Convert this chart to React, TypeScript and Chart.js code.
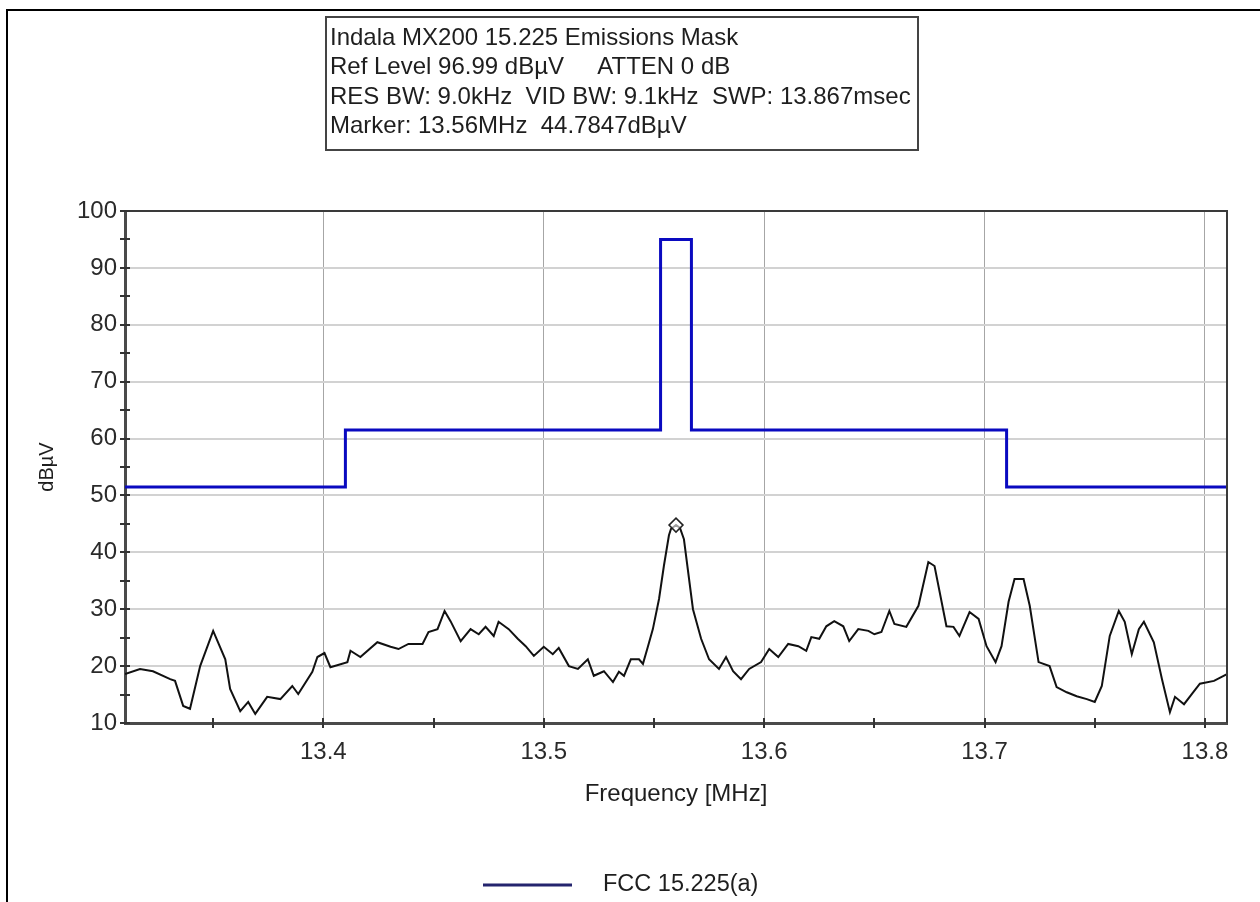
import React, { useEffect, useRef } from "react";
import { Chart, registerables } from "chart.js";

Chart.register(...registerables);

// ---------- data ----------
const traceFreq = [
  13.31, 13.3168, 13.3227, 13.3305, 13.3327, 13.3364, 13.3395, 13.3441, 13.35, 13.3555,
  13.3577, 13.3623, 13.3659, 13.3691, 13.3745, 13.3805, 13.3859, 13.3886, 13.395, 13.3973,
  13.4005, 13.4032, 13.4109, 13.4123, 13.4168, 13.4245, 13.4305, 13.4341, 13.4386, 13.445,
  13.4477, 13.4518, 13.455, 13.4577, 13.4623, 13.4668, 13.4705, 13.4736, 13.4773, 13.4795,
  13.4841, 13.4882, 13.4918, 13.4955, 13.5, 13.5041, 13.5068, 13.5114, 13.5155, 13.52,
  13.5227, 13.5273, 13.5314, 13.5341, 13.5364, 13.5395, 13.5432, 13.545, 13.5473, 13.5495,
  13.5523, 13.5545, 13.5568, 13.5577, 13.56, 13.5618, 13.5636, 13.5677, 13.5714, 13.575,
  13.5795, 13.5827, 13.5859, 13.5895, 13.5932, 13.5986, 13.6023, 13.6064, 13.6109, 13.6155,
  13.6191, 13.6214, 13.625, 13.6282, 13.6318, 13.6359, 13.6386, 13.6427, 13.6473, 13.65,
  13.6532, 13.6568, 13.6591, 13.6645, 13.67, 13.6745, 13.6773, 13.6827, 13.6859, 13.6886,
  13.6932, 13.6973, 13.7009, 13.705, 13.7077, 13.7109, 13.7136, 13.7177, 13.7205, 13.7245,
  13.7295, 13.7327, 13.7373, 13.7418, 13.7464, 13.75, 13.7532, 13.7568, 13.7609, 13.7636,
  13.7668, 13.77, 13.7723, 13.7768, 13.7805, 13.7841, 13.7864, 13.7905, 13.7941, 13.7977,
  13.8041, 13.81,
];
const traceLevel = [
  18.6, 19.5, 19.1, 17.7, 17.4, 13.0, 12.5, 20.0, 26.2, 21.2,
  16.0, 12.1, 13.7, 11.6, 14.6, 14.2, 16.5, 15.1, 19.0, 21.6,
  22.3, 19.8, 20.7, 22.7, 21.6, 24.2, 23.4, 23.0, 23.9, 23.9,
  26.0, 26.5, 29.7, 27.9, 24.4, 26.5, 25.6, 26.9, 25.3, 27.8,
  26.5, 24.8, 23.5, 21.8, 23.4, 22.1, 23.2, 20.0, 19.5, 21.2,
  18.3, 19.1, 17.2, 19.0, 18.3, 21.2, 21.2, 20.4, 23.5, 26.5,
  31.8, 37.6, 43.0, 44.1, 44.8, 44.3, 42.3, 30.0, 24.8, 21.2,
  19.5, 21.6, 19.1, 17.7, 19.5, 20.7, 23.0, 21.6, 23.9, 23.5,
  22.7, 25.1, 24.8, 27.0, 27.9, 27.0, 24.4, 26.5, 26.2, 25.6,
  26.0, 29.7, 27.4, 26.9, 30.6, 38.3, 37.6, 27.0, 26.9, 25.3,
  29.5, 28.3, 23.5, 20.7, 23.5, 31.3, 35.3, 35.3, 30.6, 20.7,
  20.0, 16.3, 15.4, 14.7, 14.2, 13.7, 16.5, 25.3, 29.7, 27.8,
  22.1, 26.5, 27.8, 24.2, 17.7, 11.9, 14.6, 13.3, 15.1, 16.9,
  17.4, 18.6,
];
const maskFreq = [13.31, 13.41, 13.553, 13.567, 13.71, 13.81];
const maskLevel = [51.5, 61.5, 95, 61.5, 51.5, 51.5];
const markerFreq = [13.56];
const markerLevel = [44.7847];

const xTickValues = [13.35, 13.4, 13.45, 13.5, 13.55, 13.6, 13.65, 13.7, 13.75, 13.8];
const xTickLabels = ["", "13.4", "", "13.5", "", "13.6", "", "13.7", "", "13.8"];
const yTickValues = [10, 15, 20, 25, 30, 35, 40, 45, 50, 55, 60, 65, 70, 75, 80, 85, 90, 95, 100];
const yTickLabels = ["10", "", "20", "", "30", "", "40", "", "50", "", "60", "", "70", "", "80", "", "90", "", "100"];

const infoLines = [
  "Indala MX200 15.225 Emissions Mask",
  "Ref Level 96.99 dBµV     ATTEN 0 dB",
  "RES BW: 9.0kHz  VID BW: 9.1kHz  SWP: 13.867msec",
  "Marker: 13.56MHz  44.7847dBµV",
];
const maskLabel = "FCC 15.225(a)";
const traceLabel = "Measured";
const xTitle = "Frequency [MHz]";
const yTitle = "dBµV";

// ---------- styling ----------
const FONT = "'Liberation Sans', Arial, sans-serif";
const W = 1260;
const H = 902;
const PLOT_TOP = 211;
const PLOT_BOTTOM = 723;
const PLOT_LEFT = 125;
const PLOT_RIGHT = 1227;

function idxOf(arr: number[], v: number) {
  for (let i = 0; i < arr.length; i++) if (Math.abs(arr[i] - v) < 1e-6) return i;
  return -1;
}

const decorPlugin = {
  id: "decor",
  beforeDraw(chart: any) {
    const ctx = chart.ctx;
    ctx.save();
    ctx.fillStyle = "#ffffff";
    ctx.fillRect(0, 0, chart.width, chart.height);
    ctx.strokeStyle = "#000";
    ctx.lineWidth = 2;
    ctx.beginPath();
    ctx.moveTo(7, H);
    ctx.lineTo(7, 10);
    ctx.lineTo(W, 10);
    ctx.stroke();
    ctx.restore();
  },
  afterDraw(chart: any) {
    const ctx = chart.ctx;
    const { left, right, top, bottom } = chart.chartArea;
    const xs = chart.scales.x;
    const ys = chart.scales.y;
    ctx.save();
    ctx.strokeStyle = "#3a3a3a";
    ctx.lineWidth = 2;
    ctx.beginPath();
    ctx.moveTo(left, top);
    ctx.lineTo(right, top);
    ctx.lineTo(right, bottom);
    ctx.stroke();
    ctx.strokeStyle = "#333";
    ctx.lineWidth = 2;
    ctx.beginPath();
    yTickValues.forEach((v) => {
      const y = Math.round(ys.getPixelForValue(v));
      ctx.moveTo(left - 5, y);
      ctx.lineTo(left + 5, y);
    });
    xTickValues.forEach((v) => {
      const x = Math.round(xs.getPixelForValue(v));
      ctx.moveTo(x, bottom - 5);
      ctx.lineTo(x, bottom + 5);
    });
    ctx.stroke();

    // info box
    ctx.fillStyle = "#ffffff";
    ctx.fillRect(326, 17, 592, 133);
    ctx.strokeStyle = "#444";
    ctx.lineWidth = 2;
    ctx.strokeRect(326, 17, 592, 133);
    ctx.fillStyle = "#1e1e1e";
    ctx.font = `24px ${FONT}`;
    ctx.textBaseline = "middle";
    ctx.textAlign = "left";
    infoLines.forEach((line, i) => {
      ctx.fillText(line, 330, 38 + i * 29.5);
    });

    // legend
    const ly = 885;
    ctx.strokeStyle = "#24246e";
    ctx.lineWidth = 3;
    ctx.beginPath();
    ctx.moveTo(483, ly);
    ctx.lineTo(572, ly);
    ctx.stroke();
    ctx.fillStyle = "#1e1e1e";
    ctx.font = `23.5px ${FONT}`;
    ctx.fillText(maskLabel, 603, ly);
    ctx.restore();
  },
};

export default function App() {
  const canvasRef = useRef<HTMLCanvasElement | null>(null);

  useEffect(() => {
    if (!canvasRef.current) return;
    const chart = new Chart(canvasRef.current, {
      type: "line",
      data: {
        datasets: [
          {
            label: "Marker",
            data: markerFreq.map((f, i) => ({ x: f, y: markerLevel[i] })),
            showLine: false,
            pointStyle: "rectRot",
            pointRadius: 7,
            pointBorderWidth: 1.5,
            pointBorderColor: "#222",
            pointBackgroundColor: "rgba(255,255,255,0.6)",
          },
          {
            label: traceLabel,
            data: traceFreq.map((f, i) => ({ x: f, y: traceLevel[i] })),
            borderColor: "#111111",
            borderWidth: 2,
            pointRadius: 0,
            tension: 0,
          },
          {
            label: maskLabel,
            data: maskFreq.map((f, i) => ({ x: f, y: maskLevel[i] })),
            borderColor: "#0a0ac0",
            borderWidth: 3,
            pointRadius: 0,
            stepped: "before",
          },
        ],
      },
      options: {
        animation: false,
        responsive: false,
        maintainAspectRatio: false,
        layout: { padding: { left: 0, top: PLOT_TOP, right: W - PLOT_RIGHT, bottom: 0 } },
        plugins: {
          legend: { display: false },
          tooltip: { enabled: false },
        },
        scales: {
          x: {
            type: "linear",
            min: 13.31,
            max: 13.81,
            afterBuildTicks: (s: any) => {
              s.ticks = xTickValues.map((v) => ({ value: v }));
            },
            afterFit: (s: any) => {
              s.height = H - PLOT_BOTTOM;
            },
            ticks: {
              autoSkip: false,
              maxRotation: 0,
              padding: 15,
              color: "#2a2a2a",
              font: { family: FONT, size: 24 },
              callback: (v: any) => {
                const i = idxOf(xTickValues, Number(v));
                return i >= 0 ? xTickLabels[i] : "";
              },
            },
            grid: {
              drawTicks: false,
              lineWidth: 1,
              color: (c: any) => {
                const i = c.tick ? idxOf(xTickValues, c.tick.value) : -1;
                return i >= 0 && xTickLabels[i] !== "" ? "#a6a6a6" : "rgba(0,0,0,0)";
              },
            },
            border: { color: "#4a4a4a", width: 3 },
            title: {
              display: true,
              text: xTitle,
              color: "#1e1e1e",
              font: { family: FONT, size: 24 },
              padding: { top: 0, bottom: 93 },
            },
          },
          y: {
            type: "linear",
            min: 10,
            max: 100,
            afterBuildTicks: (s: any) => {
              s.ticks = yTickValues.map((v) => ({ value: v }));
            },
            afterFit: (s: any) => {
              s.width = PLOT_LEFT;
            },
            ticks: {
              autoSkip: false,
              padding: 8,
              color: "#2a2a2a",
              font: { family: FONT, size: 24 },
              callback: (v: any) => {
                const i = idxOf(yTickValues, Number(v));
                return i >= 0 ? yTickLabels[i] : "";
              },
            },
            grid: {
              drawTicks: false,
              lineWidth: 2,
              color: (c: any) => {
                const v = c.tick ? c.tick.value : 0;
                return v % 10 === 0 && v > 10 && v < 100 ? "#d2d2d2" : "rgba(0,0,0,0)";
              },
            },
            border: { color: "#4a4a4a", width: 3 },
            title: {
              display: true,
              text: yTitle,
              color: "#1e1e1e",
              font: { family: FONT, size: 20 },
              padding: { top: 35, bottom: 0 },
            },
          },
        },
      },
      plugins: [decorPlugin],
    } as any);
    return () => chart.destroy();
  }, []);

  return (
    <div style={{ position: "absolute", left: 0, top: 0, width: W, height: H }}>
      <canvas ref={canvasRef} width={W} height={H} style={{ display: "block" }} />
    </div>
  );
}
